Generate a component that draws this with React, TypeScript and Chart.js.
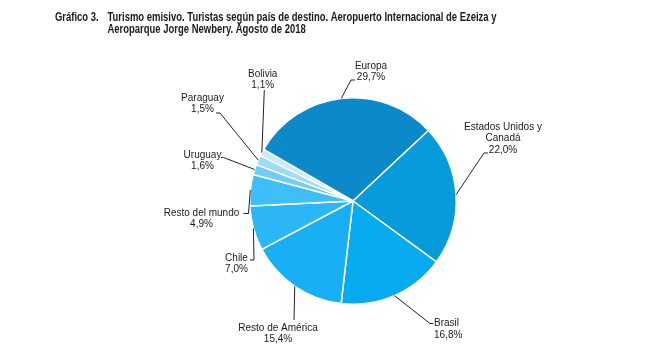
import React, { useEffect, useRef } from "react";
import { Chart, registerables } from "chart.js";

Chart.register(...registerables);

// ---- data ----
const categories = [
  "Europa",
  "Estados Unidos y Canadá",
  "Brasil",
  "Resto de América",
  "Chile",
  "Resto del mundo",
  "Uruguay",
  "Paraguay",
  "Bolivia",
];
const labelLines = [
  ["Europa"],
  ["Estados Unidos y", "Canadá"],
  ["Brasil"],
  ["Resto de América"],
  ["Chile"],
  ["Resto del mundo"],
  ["Uruguay"],
  ["Paraguay"],
  ["Bolivia"],
];
const shares = [29.7, 22.0, 16.8, 15.4, 7.0, 4.9, 1.6, 1.5, 1.1];
const titleLabel = "Gráfico 3.";
const titleLines = [
  "Turismo emisivo. Turistas según país de destino. Aeropuerto Internacional de Ezeiza y",
  "Aeroparque Jorge Newbery. Agosto de 2018",
];

// ---- styles ----
const colors = [
  "#0b89c9",
  "#089bdc",
  "#05aaef",
  "#18aff4",
  "#2bb7f7",
  "#3fbffa",
  "#70cdf9",
  "#9bdcf9",
  "#c6ebfb",
];

// label layout, relative to pie centre (px): elbow point, horizontal tail, text anchor
type Lay = { ex: number; ey: number; tail: number; tx: number; ty: number; align: CanvasTextAlign };
const labelLayout: Lay[] = [
  { ex: -2, ey: -121, tail: 4, tx: 18, ty: -135, align: "center" },
  { ex: 131, ey: -48, tail: 4, tx: 150, ty: -74, align: "center" },
  { ex: 77, ey: 122.5, tail: 3.5, tx: 81, ty: 122.5, align: "left" },
  { ex: -59, ey: 119, tail: 0, tx: -75, ty: 127, align: "center" },
  { ex: -99, ey: 59, tail: -4, tx: -116.5, ty: 57, align: "center" },
  { ex: -104.5, ey: 12.5, tail: -5, tx: -151.5, ty: 12, align: "center" },
  { ex: -129.5, ey: -43.5, tail: -2.5, tx: -150.5, ty: -46, align: "center" },
  { ex: -133, ey: -88, tail: -4, tx: -150.5, ty: -103, align: "center" },
  { ex: -88.7, ey: -111, tail: 0, tx: -90.3, ty: -127, align: "center" },
];

const fmt = (v: number) => v.toFixed(1).replace(".", ",") + "%";

const annotations = {
  id: "annotations",
  afterDraw(chart: any) {
    const ctx = chart.ctx as CanvasRenderingContext2D;
    // title
    ctx.save();
    ctx.fillStyle = "#1a1a1a";
    ctx.textBaseline = "alphabetic";
    ctx.font = "bold 12.5px 'Liberation Sans', Arial, sans-serif";
    const w1 = ctx.measureText(titleLines[0]).width;
    const s = 389 / w1;
    const drawScaled = (t: string, x: number, y: number) => {
      ctx.save();
      ctx.translate(x, y);
      ctx.scale(s, 1);
      ctx.fillText(t, 0, 0);
      ctx.restore();
    };
    drawScaled(titleLabel, 55, 20.5);
    titleLines.forEach((t, i) => drawScaled(t, 107.5, 20.5 + i * 12.8));
    ctx.restore();

    // labels + leader lines
    const meta = chart.getDatasetMeta(0);
    ctx.save();
    ctx.font = "10px 'Liberation Sans', Arial, sans-serif";
    ctx.fillStyle = "#1a1a1a";
    ctx.strokeStyle = "#222";
    ctx.lineWidth = 1;
    ctx.textBaseline = "middle";
    meta.data.forEach((arc: any, i: number) => {
      const p = arc.getProps(["x", "y", "startAngle", "endAngle", "outerRadius"], true);
      const mid = (p.startAngle + p.endAngle) / 2;
      const sx = p.x + p.outerRadius * Math.cos(mid);
      const sy = p.y + p.outerRadius * Math.sin(mid);
      const L = labelLayout[i];
      const ex = p.x + L.ex;
      const ey = p.y + L.ey;
      ctx.beginPath();
      ctx.moveTo(sx, sy);
      ctx.lineTo(ex, ey);
      if (L.tail !== 0) ctx.lineTo(ex + L.tail, ey);
      ctx.stroke();
      ctx.textAlign = L.align;
      const lines = [...labelLines[i], fmt(shares[i])];
      lines.forEach((t, k) => ctx.fillText(t, p.x + L.tx, p.y + L.ty + k * 11.5));
    });
    ctx.restore();
  },
};

export default function App() {
  const ref = useRef<HTMLCanvasElement | null>(null);
  useEffect(() => {
    if (!ref.current) return;
    const chart = new Chart(ref.current, {
      type: "pie",
      data: {
        labels: categories,
        datasets: [
          {
            data: shares,
            backgroundColor: colors,
            borderColor: "#ffffff",
            borderWidth: 1.5,
          },
        ],
      },
      options: {
        animation: false,
        responsive: false,
        devicePixelRatio: 1,
        rotation: -60,
        layout: { padding: { left: 249, right: 197, top: 97, bottom: 57 } },
        plugins: {
          legend: { display: false },
          tooltip: { enabled: false },
          title: { display: false },
        },
      },
      plugins: [annotations],
    } as any);
    return () => chart.destroy();
  }, []);
  return (
    <div style={{ position: "fixed", left: 0, top: 0, width: 654, height: 362, background: "#fff" }}>
      <canvas ref={ref} width={654} height={362} style={{ display: "block" }} />
    </div>
  );
}
